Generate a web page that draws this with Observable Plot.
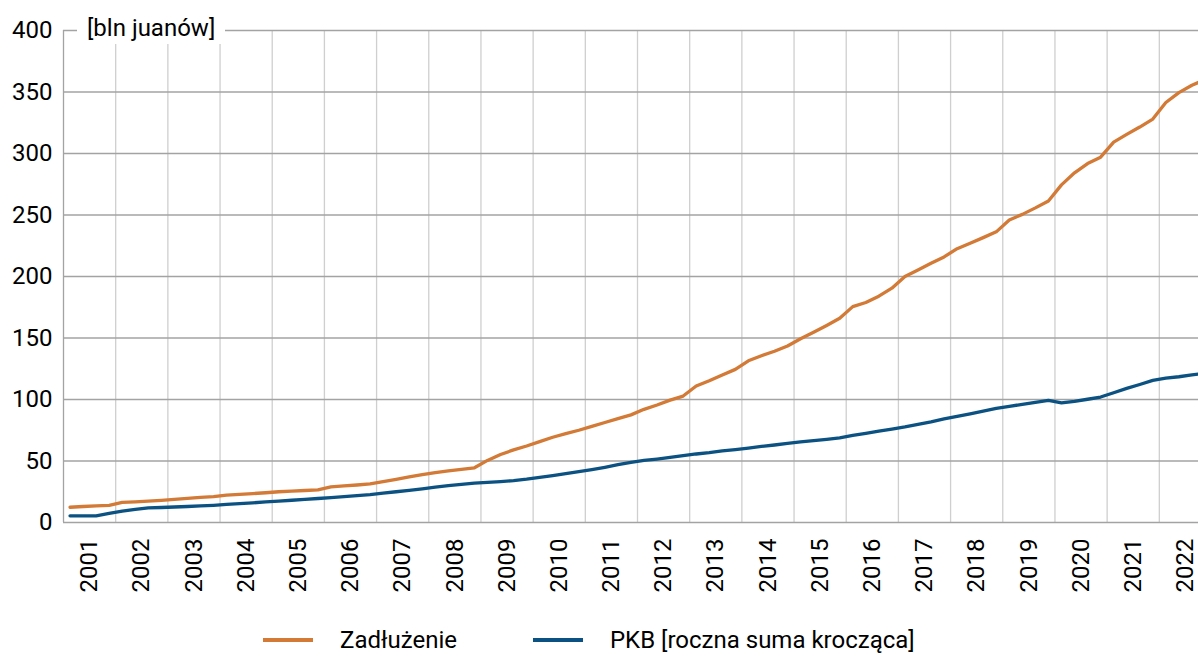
<!DOCTYPE html>
<html>
<head>
<meta charset="utf-8">
<script src="https://cdn.jsdelivr.net/npm/d3@7"></script>
<script src="https://cdn.jsdelivr.net/npm/@observablehq/plot@0.6"></script>
<style>
  html, body { margin: 0; padding: 0; background: #fff; overflow: hidden; }
  #wrap { position: relative; width: 1198px; height: 655px; overflow: hidden; font-family: Roboto, "Liberation Sans", sans-serif; color: #000; }
  #chart { position: absolute; left: 0; top: 0; width: 1211px; }
  #chart svg { max-width: none !important; width: 1211px; height: 600px; }
  #unit { position: absolute; left: 77px; top: 13px; height: 31px; padding: 0 10px; background: #fff; font-size: 24px; line-height: 31px; white-space: nowrap; }
  #legend { position: absolute; left: 263px; top: 628px; display: flex; align-items: center; font-size: 24px; line-height: 24px; white-space: nowrap; }
  .sw { display: inline-block; width: 50px; height: 3.4px; margin-right: 27px; }
  .item { display: flex; align-items: center; margin-right: 76px; }
</style>
</head>
<body>
<div id="wrap">
  <div id="chart"></div>
  <div id="unit">[bln juanów]</div>
  <div id="legend"></div>
</div>
<script>
const seriesNames = ["Zadłużenie", "PKB [roczna suma krocząca]"];
const seriesColors = ["#d27a36", "#0b5282"];
const years = d3.range(2001, 2023);           // tick labels 2001..2022
const quarters = [1, 2, 3, 4];
const yTicks = [0, 50, 100, 150, 200, 250, 300, 350, 400];

// Zadłużenie, quarterly 2001Q1 - 2022Q4
const debt = [
  12.4, 13.0, 13.5, 14.0,
  16.3, 16.8, 17.3, 18.0,
  18.8, 19.6, 20.4, 21.1,
  22.2, 22.9, 23.5, 24.2,
  25.0, 25.5, 26.0, 26.6,
  29.0, 29.8, 30.5, 31.4,
  33.2, 35.0, 37.0, 38.9,
  40.6, 42.0, 43.2, 44.5,
  50.5, 55.3, 59.0, 62.2,
  65.7, 69.3, 72.2, 75.0,
  78.2, 81.3, 84.5, 87.5,
  92.0, 95.5, 99.5, 102.8,
  111.0, 115.3, 120.0, 124.5,
  131.5, 135.6, 139.2, 143.5,
  149.4, 154.7, 160.2, 166.0,
  175.5, 178.9, 184.0, 190.5,
  200.0, 205.3, 210.7, 215.9,
  222.6, 227.0, 231.6, 236.3,
  246.0, 250.5, 255.8, 261.4,
  274.5, 284.3, 291.8, 297.0,
  309.2, 315.5, 321.5, 328.0,
  341.5, 349.5, 355.5, 360.0
];
// PKB [roczna suma krocząca], quarterly 2001Q1 - 2022Q4
const gdp = [
  5.4, 5.4, 5.4, 7.4,
  9.2, 10.6, 11.9, 12.2,
  12.6, 13.0, 13.5, 14.0,
  14.7, 15.4, 16.0, 16.7,
  17.4, 18.1, 18.8, 19.5,
  20.2, 21.0, 21.9, 22.7,
  23.8, 25.0, 26.2, 27.4,
  28.7, 30.0, 31.0, 32.0,
  32.7, 33.3, 34.1, 35.2,
  36.6, 38.2, 39.8, 41.3,
  43.0, 44.9, 47.0, 48.9,
  50.5, 51.6, 52.9, 54.3,
  55.7, 56.8, 58.2, 59.3,
  60.5, 61.8, 63.0, 64.3,
  65.5, 66.5, 67.6, 68.8,
  70.8, 72.5, 74.2, 75.9,
  77.7, 79.8, 81.8, 84.2,
  86.3, 88.4, 90.5, 92.8,
  94.4, 96.1, 97.6, 99.2,
  97.3, 98.5, 100.2, 102.0,
  105.5, 109.0, 112.2, 115.5,
  117.3, 118.5, 120.0, 121.3
];

// quarter keys: year + quarter (placed mid-quarter on a continuous year axis)
const periods = years.flatMap(y => quarters.map(q => ({year: y, q})));
const rows = [];
[debt, gdp].forEach((vals, s) => {
  vals.forEach((v, i) => {
    const p = periods[i];
    rows.push({series: seriesNames[s], t: p.year + (p.q - 0.5) / 4, v});
  });
});

const yearBounds = d3.range(2002, 2024);
const yearCenters = years.map(y => y + 0.5);

const chart = Plot.plot({
  width: 1211,
  height: 600,
  marginLeft: 63,
  marginRight: 0,
  marginTop: 30,
  marginBottom: 78,
  style: {fontFamily: 'Roboto, "Liberation Sans", sans-serif', fontSize: "24px", color: "#000", background: "transparent", overflow: "visible", maxWidth: "none"},
  x: {domain: [2001, 2023], axis: null, label: null},
  y: {domain: [0, 400], axis: null, label: null},
  color: {domain: seriesNames, range: seriesColors},
  marks: [
    Plot.ruleX(yearBounds, {stroke: "#cfcfcf", strokeWidth: 1.3}),
    Plot.ruleY(yTicks, {stroke: "#a3a3a3", strokeWidth: 1.3}),
    Plot.ruleX([2001], {stroke: "#a3a3a3", strokeWidth: 1.3}),
    Plot.line(rows, {x: "t", y: "v", z: "series", stroke: "series", strokeWidth: 3.3, strokeLinejoin: "round"}),
    Plot.axisY(yTicks, {tickSize: 0, tickPadding: 11, fontSize: 24, label: null, tickFormat: d => String(d)}),
    Plot.axisX(yearCenters, {tickSize: 0, tickPadding: 16, tickRotate: -90, fontSize: 24, label: null, tickFormat: d => String(Math.floor(d))})
  ]
});
document.getElementById("chart").appendChild(chart);

const legend = document.getElementById("legend");
seriesNames.forEach((name, i) => {
  const item = document.createElement("div");
  item.className = "item";
  const sw = document.createElement("span");
  sw.className = "sw";
  sw.style.background = seriesColors[i];
  const label = document.createElement("span");
  label.textContent = name;
  item.appendChild(sw);
  item.appendChild(label);
  legend.appendChild(item);
});
</script>
</body>
</html>
